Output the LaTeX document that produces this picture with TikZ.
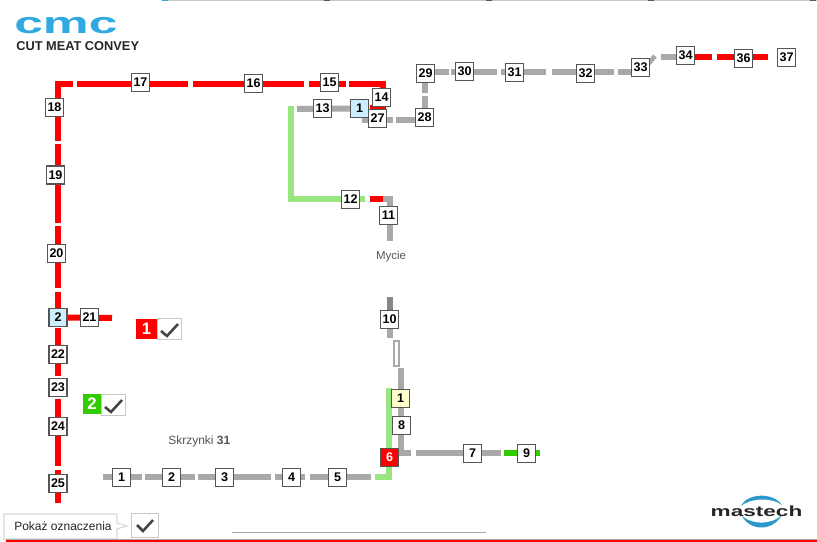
\documentclass[tikz,border=0pt]{standalone}
\usepackage{fontspec}
\setmainfont{Liberation Sans}
\usepackage{xcolor}
\definecolor{beltred}{HTML}{FF0000}
\definecolor{beltgrey}{HTML}{A9A9A9}
\definecolor{beltpale}{HTML}{99E680}
\definecolor{beltgreen}{HTML}{33CC00}
\definecolor{edge}{HTML}{555555}
\definecolor{ink}{HTML}{444444}
\definecolor{frame}{HTML}{C8C8C8}
\definecolor{cmcblue}{HTML}{30A8E0}
\definecolor{iceblue}{HTML}{CCEEFF}
\definecolor{cream}{HTML}{FFFFCC}
\usetikzlibrary{backgrounds}
\tikzset{
  tag/.style={draw=edge,fill=white,line width=1.1pt,minimum size=13.4pt,inner sep=0pt,
    font=\bfseries\fontsize{9.4}{10}\selectfont,text=black},
  rbelt/.style={draw=beltred,line width=4.5pt},
  gbelt/.style={draw=beltgrey,line width=4.5pt},
  pbelt/.style={draw=beltpale,line width=4.5pt},
  sbelt/.style={draw=beltgreen,line width=4.5pt},
  swatch/.style={inner sep=0pt,text=white,font=\bfseries\fontsize{12.5}{13}\selectfont},
  chkbox/.style={draw=frame,fill=white,line width=0.8pt,inner sep=0pt},
  tick/.style={draw=ink,line width=1.9pt},
  lbl/.style={font=\fontsize{8.6}{10}\selectfont,text=edge},
}
\begin{document}
\begin{tikzpicture}[x=0.75pt,y=-0.75pt]
  \useasboundingbox (0,0) rectangle (817,542);
  % numbered tags
  \foreach \n/\x/\y in {17/140.5/82.5,16/253.5/83.5,15/329.5/82.5,14/381.5/97.5,13/322.5/108.5,
    27/377.5/118.5,28/424.5/117.5,29/425.5/73.5,30/464.5/71.5,31/514.5/72.5,32/585.5/73.5,
    33/640.5/67.5,34/685.5/55.5,36/743.5/58.5,37/786.5/57.5,18/54.5/107.5,19/55.5/175,
    20/56.5/253.5,21/89.5/317.5,22/58/354.5,23/58/387.5,24/58/426.5,25/58/483.5,
    12/350.5/199.5,11/388.5/215.5,10/389.5/319.5,8/401.5/425.5,7/472.5/453.5,9/526.5/453.5}
    \node[tag] (t\n) at (\x,\y) {\n};
  \foreach \n/\x in {1/121.5,2/171.5,3/224.5,4/291.5,5/337.5}
    \node[tag] (k\n) at (\x,477.5) {\n};
  \node[tag,fill=iceblue] (t2) at (58,317.5) {2};
  \node[tag,fill=iceblue] (t1) at (359.5,108.5) {1};
  \node[tag,fill=cream] (y1) at (400.5,398.5) {1};
  \node[tag,fill=beltred,text=white] (t6) at (389.5,457.5) {6};
  % belts
  \begin{scope}[on background layer]
    \draw[rbelt] (73,84) -- (58,84) -- (58,141);
    \foreach \a/\b in {77/188,193/304,309/346} \draw[rbelt] (\a,84) -- (\b,84);
    \draw[rbelt] (349,84) -- (383,84) -- (383,90);
    \foreach \a/\b in {144/223,226/288,292/310,328/345,364/376,399/417,435/466,470/503}
      \draw[rbelt] (58,\a) -- (58,\b);
    \draw[rbelt] (t2) -- (112,318);
    \draw[rbelt] (370,108) -- (386,108);
    \draw[rbelt] (370,199) -- (384,199);
    \draw[rbelt] (685,57) -- (712,57);
    \draw[rbelt] (717,57) -- (768,57);
    \draw[pbelt] (291,106) -- (291,199) -- (365,199);
    \draw[pbelt] (375,477) -- (389,477) -- (389,388);
    \draw[gbelt] (297,109) -- (t1);
    \draw[gbelt] (383,199) -- (390,199) -- (390,241);
    \draw[gbelt] (362,120) -- (393,120);
    \draw[gbelt] (396,120) -- (424,120);
    \foreach \a/\b in {83/93,96/108} \draw[gbelt] (425,\a) -- (425,\b);
    \foreach \a/\b in {435/449,451/497,501/546,552/614,618/640} \draw[gbelt] (\a,72) -- (\b,72);
    \draw[gbelt,line width=3.6pt] (648,64) -- (655,56);
    \draw[gbelt] (661,57) -- (685,57);
    \draw[gbelt] (390,310) -- (390,338);
    \draw[draw=beltgrey!80!black,line width=4.5pt] (390,297) -- (390,312);
    \draw[draw=beltgrey,line width=1.5pt,fill=white] (394,341) rectangle (398.5,365.5);
    \draw[gbelt] (401,368) -- (401,453) -- (411,453);
    \draw[gbelt] (416,453) -- (501,453);
    \draw[sbelt] (504,453) -- (540,453);
    \foreach \a/\b in {103/142,145/195,198/271,275/305,310/371} \draw[gbelt] (\a,477) -- (\b,477);
  \end{scope}
  % legend
  \node[swatch,fill=beltred,minimum width=15.8pt,minimum height=15pt] (r1) at (146.5,329) {1};
  \node[chkbox,minimum width=18pt,minimum height=16pt] (c1) at (169.5,329) {};
  \draw[tick] (161,331) -- ++(6,5) -- ++(11,-12);
  \node[swatch,fill=beltgreen,minimum width=13.5pt,minimum height=15pt] (r2) at (92,404) {2};
  \node[chkbox,minimum width=18pt,minimum height=16pt] (c2) at (113.5,405) {};
  \draw[tick] (105,407) -- ++(6,5) -- ++(11,-12);
  % texts
  \node[lbl] (mycie) at (391,257) {Mycie};
  \node[lbl,font=\fontsize{9}{10}\selectfont,anchor=west,inner sep=0pt] (skrzynki) at (168,441.5) {Skrzynki \textbf{31}};
  \node[font=\fontsize{9.6}{10}\selectfont,text=black!85,anchor=west,inner sep=0pt] (brand) at (16,46)
    {\textbf{CUT MEAT CONVEY}};
  \node[font=\bfseries\fontsize{22.5}{23}\selectfont,text=cmcblue,anchor=base west,inner sep=0pt] (cmc) at (14,34)
    {\scalebox{1.72}[1]{cmc}};
  % show markings
  \draw[draw=frame!70,fill=white,line width=0.8pt] (4,514) -- (117,514) -- (117,523) -- (127,526)
    -- (117,529) -- (117,539) -- (4,539) -- cycle;
  \node[font=\fontsize{9}{10}\selectfont,text=black!85,anchor=west,inner sep=0pt] (pokaz) at (14,526) {Pokaż oznaczenia};
  \node[chkbox,minimum width=20.5pt,minimum height=18.5pt] (c3) at (145,525.5) {};
  \draw[tick] (137,525) -- ++(6,6) -- ++(10,-11);
  % mastech logo
  \fill[cmcblue!90!black] (741,506) .. controls (746,494) and (772,491) .. (782,505)
    .. controls (772,497) and (750,498) .. (741,506) -- cycle;
  \fill[cmcblue!90!black] (742,516) .. controls (750,531) and (772,532) .. (782,515)
    .. controls (772,525) and (752,525) .. (742,516) -- cycle;
  \node[font=\bfseries\fontsize{11}{12}\selectfont,text=black!85,anchor=base,inner sep=0pt] (mastech) at (756.5,516)
    {\scalebox{1.54}[1]{mastech}};
  % page rules
  \draw[draw=frame,line width=0.75pt] (163,0.5) -- (817,0.5);
  \draw[draw=cmcblue,line width=0.75pt] (162,0.5) -- (168,0.5);
  \foreach \x in {324,486,648,810} \draw[draw=edge,line width=0.75pt] (\x,0.5) -- (\x+6,0.5);
  \draw[draw=beltgrey,line width=0.75pt] (232,532.5) -- (486,532.5);
  \draw[draw=beltgrey,line width=0.75pt] (6,539.5) -- (817,539.5);
  \draw[draw=beltred,line width=1.5pt] (6,541) -- (817,541);
\end{tikzpicture}
\end{document}
